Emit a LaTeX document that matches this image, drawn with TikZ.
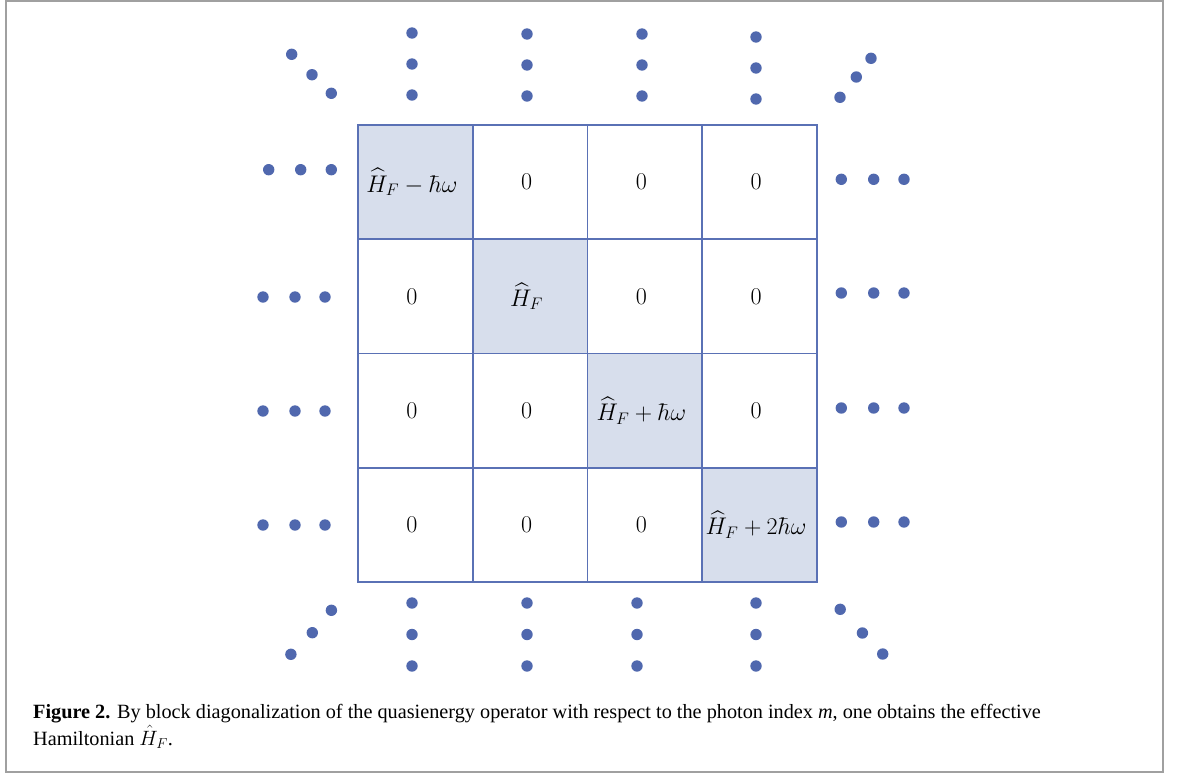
\documentclass[tikz,border=0pt]{standalone}
\usepackage{fontspec}
\usepackage{amsmath}
\usepackage{graphicx}
\newfontfamily\capfont{Liberation Serif}
\definecolor{gridc}{HTML}{5A71B5}
\definecolor{cellfill}{HTML}{D7DEEC}
\definecolor{dotc}{HTML}{5068AE}
\definecolor{framec}{HTML}{A0A0A0}
\newcommand{\cellm}[1]{\scalebox{1.16}{$#1$}\kern7pt}
\tikzset{
  cell/.style={draw=gridc, line width=1.7pt, minimum width=114.75pt, minimum height=114.25pt, inner sep=0pt, font=\fontsize{22}{26}\selectfont},
  diag/.style={cell, fill=cellfill},
  dotnode/.style={circle, fill=dotc, inner sep=0pt, minimum size=11.4pt},
  captext/.style={anchor=base west, inner sep=0pt, font=\capfont\fontsize{20.25}{24}\selectfont},
}
\begin{document}
\begin{tikzpicture}[x=1pt,y=-1pt]
\useasboundingbox (0,0) rectangle (1179,774);
\draw[framec, line width=1.5pt] (6,1) rectangle (1163,772);
% cells
\node[diag] (c11) at (415.4,182.1) {\cellm{\widehat{H}_F-\hbar\omega}};
\node[cell] (c12) at (530.1,182.1) {\cellm{0}};
\node[cell] (c13) at (644.9,182.1) {\cellm{0}};
\node[cell] (c14) at (759.6,182.1) {\cellm{0}};
\node[cell] (c21) at (415.4,296.4) {\cellm{0}};
\node[diag] (c22) at (530.1,296.4) {\cellm{\widehat{H}_F}};
\node[cell] (c23) at (644.9,296.4) {\cellm{0}};
\node[cell] (c24) at (759.6,296.4) {\cellm{0}};
\node[cell] (c31) at (415.4,410.6) {\cellm{0}};
\node[cell] (c32) at (530.1,410.6) {\cellm{0}};
\node[diag] (c33) at (644.9,410.6) {\cellm{\widehat{H}_F+\hbar\omega}};
\node[cell] (c34) at (759.6,410.6) {\cellm{0}};
\node[cell] (c41) at (415.4,524.9) {\cellm{0}};
\node[cell] (c42) at (530.1,524.9) {\cellm{0}};
\node[cell] (c43) at (644.9,524.9) {\cellm{0}};
\node[diag] (c44) at (759.6,524.9) {\cellm{\widehat{H}_F+2\hbar\omega}};
% top-left diagonal dots
\node[dotnode] (tl1) at (291.7,54.3) {};
\node[dotnode] (tl2) at (312,74.7) {};
\node[dotnode] (tl3) at (331.3,93.3) {};
% top column dots
\foreach \x/\y [count=\i] in {412/33,527/34,642/34,756/37}{
  \node[dotnode] (t\i a) at (\x,\y) {};
  \node[dotnode] (t\i b) at (\x,\y+31) {};
  \node[dotnode] (t\i c) at (\x,\y+62) {};
}
% top-right diagonal dots
\node[dotnode] (tr1) at (871,58.3) {};
\node[dotnode] (tr2) at (856.3,77) {};
\node[dotnode] (tr3) at (840,97.3) {};
% left row dots
\node[dotnode] (l1a) at (268.7,169.7) {};
\node[dotnode] (l1b) at (300.7,169.7) {};
\node[dotnode] (l1c) at (331.3,169.7) {};
\foreach \y [count=\i] in {297,411,525}{
  \node[dotnode] (l\i x) at (263,\y) {};
  \node[dotnode] (l\i y) at (295,\y) {};
  \node[dotnode] (l\i z) at (325,\y) {};
}
% right row dots
\foreach \y [count=\i] in {179.3,293,408,522}{
  \node[dotnode] (r\i a) at (841.3,\y) {};
  \node[dotnode] (r\i b) at (873.7,\y) {};
  \node[dotnode] (r\i c) at (904,\y) {};
}
% bottom-left diagonal
\node[dotnode] (bl1) at (331.4,610.3) {};
\node[dotnode] (bl2) at (312.3,632.7) {};
\node[dotnode] (bl3) at (290.9,654.3) {};
% bottom column dots
\foreach \x [count=\i] in {412,527,637,756}{
  \node[dotnode] (b\i a) at (\x,603) {};
  \node[dotnode] (b\i b) at (\x,634.5) {};
  \node[dotnode] (b\i c) at (\x,666) {};
}
% bottom-right diagonal
\node[dotnode] (br1) at (840.2,609.3) {};
\node[dotnode] (br2) at (862.4,633) {};
\node[dotnode] (br3) at (882.7,654) {};
% caption
\node[captext] (cap1) at (33,718) {\textbf{Figure 2.} By block diagonalization of the quasienergy operator with respect to the photon index \textit{m}, one obtains the effective};
\node[captext] (cap2) at (33,745) {Hamiltonian $\hat{H}_F$.};
\end{tikzpicture}
\end{document}
